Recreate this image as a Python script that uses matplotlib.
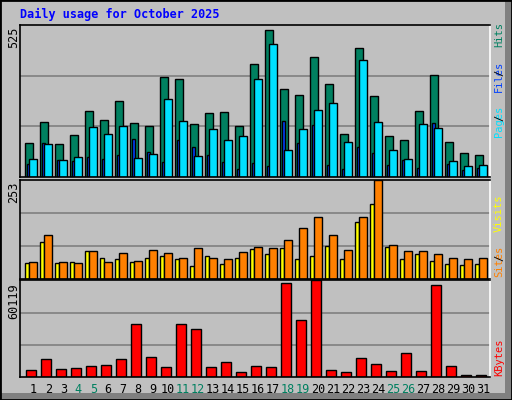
import matplotlib
matplotlib.use('Agg')
import matplotlib.pyplot as plt
from matplotlib.patches import Rectangle

days = list(range(1, 32))
hits = [119, 192, 115, 147, 230, 198, 264, 188, 178, 347, 340, 185, 223, 226, 178, 392,
        510, 306, 285, 417, 323, 150, 448, 282, 143, 129, 230, 354, 122, 84, 77]
files = [63, 115, 60, 70, 174, 150, 178, 67, 81, 271, 195, 74, 167, 129, 143, 340,
         462, 95, 167, 233, 257, 122, 406, 192, 95, 63, 185, 171, 57, 39, 43]
pages = [46, 119, 58, 54, 68, 63, 77, 133, 88, 53, 129, 105, 77, 53, 29, 50,
         37, 195, 119, 181, 43, 29, 105, 84, 43, 60, 32, 188, 46, 25, 32]
sites = [41, 94, 41, 44, 72, 55, 50, 44, 55, 60, 50, 33, 58, 38, 55, 77,
         63, 80, 50, 58, 85, 52, 146, 193, 83, 52, 63, 47, 38, 36, 38]
visits = [44, 113, 44, 41, 72, 44, 66, 47, 74, 66, 55, 80, 55, 50, 69, 83,
          80, 99, 132, 160, 113, 74, 160, 253, 88, 72, 72, 63, 55, 50, 55]
kbytes = [4154, 10930, 4810, 5465, 6777, 7433, 10930, 33010, 12680, 6121, 33010, 29731,
          6121, 9400, 2842, 6777, 6121, 58588, 35634, 60119, 4154, 2842, 12024, 8089,
          3498, 14647, 3498, 57276, 6777, 1530, 1530]
weekend = [4, 5, 11, 12, 18, 19, 25, 26]

C_HITS, C_FILES, C_PAGES = '#008060', '#0040FF', '#00E0FF'
C_SITES, C_VISITS, C_KB = '#FFFF00', '#FF8000', '#FF0000'
BG = '#C0C0C0'
W, H = 512, 400
MONO = 'DejaVu Sans Mono'

fig = plt.figure(figsize=(W / 100, H / 100), dpi=100, facecolor=BG)

# bevel frame
fig.patches.append(Rectangle((505 / W, 0), 7 / W, 1, transform=fig.transFigure,
                             facecolor='#808080', edgecolor='none'))
fig.patches.append(Rectangle((0, 0), 1, 7 / H, transform=fig.transFigure,
                             facecolor='#808080', edgecolor='none'))
fig.patches.append(Rectangle((0, 0), 1, 1, transform=fig.transFigure, fill=False,
                             edgecolor='black', lw=2))


def panel(top, bottom, ymax):
    ax = fig.add_axes([20 / W, 1 - bottom / H, 470 / W, (bottom - top) / H])
    ax.set_facecolor(BG)
    ax.set_xlim(0.647, 31.98)
    ax.set_ylim(0, ymax * 1.003)
    ax.set_xticks([])
    ax.set_yticks([])
    for y in (ymax / 3, ymax * 2 / 3):
        ax.axhline(y, color='#808080', lw=1.2, zorder=0)
    for s in ax.spines.values():
        s.set_linewidth(1.2)
    ax.spines['right'].set_color('white')
    return ax


kw = dict(align='edge', edgecolor='black', linewidth=1)

ax1 = panel(25, 177, 525)
ax1.bar(days, hits, width=0.5, color=C_HITS, **kw)
ax1.bar([d + 0.1 for d in days], pages, width=0.22, color=C_FILES, **kw)
ax1.bar([d + 0.27 for d in days], files, width=0.49, color=C_PAGES, **kw)

ax2 = panel(180, 279, 253)
ax2.bar(days, sites, width=0.27, color=C_SITES, **kw)
ax2.bar([d + 0.27 for d in days], visits, width=0.49, color=C_VISITS, **kw)

ax3 = panel(280, 377, 60119)
ax3.bar([d + 0.07 for d in days], kbytes, width=0.67, color=C_KB, **kw)

for d in days:
    ax3.text(d + 0.53, -0.06, str(d), transform=ax3.get_xaxis_transform(),
             ha='center', va='top', family=MONO, fontsize=8.5,
             color=C_HITS if d in weekend else 'black')

fig.text(20 / W, 1 - 14 / H, 'Daily usage for October 2025', color='#0000FF',
         family=MONO, fontweight='bold', fontsize=8.5, va='center')

for label, ytop in (('525', 27), ('253', 182), ('60119', 283)):
    fig.text(14 / W, 1 - ytop / H, label, rotation=90, ha='center', va='top',
             family=MONO, fontsize=8.5)

# right-hand legends, stacked vertical pieces (bottom to top)
CH = 5.6  # px per character
for ybot, parts in ((137, [('Pages', C_PAGES), (' / ', 'black'), ('Files', C_FILES),
                           (' / ', 'black'), ('Hits', C_HITS)]),
                    (277, [('Sites', C_VISITS), (' / ', 'black'), ('Visits', C_SITES)]),
                    (376, [('KBytes', C_KB)])):
    y = ybot
    for txt, col in parts:
        fig.text(499 / W, 1 - y / H, txt.strip(), rotation=90, ha='center',
                 va='bottom' if txt.strip() == txt else 'center',
                 family=MONO, fontsize=7.5, color=col)
        if txt.strip() != txt:
            pass
        y -= len(txt) * CH
    # reposition slashes centered in their gap
for t in fig.texts:
    if t.get_text() == '/':
        x, y = t.get_position()
        t.set_position((x, y - 1.5 * CH / H))

fig.savefig('out.png', dpi=100, facecolor=BG)
